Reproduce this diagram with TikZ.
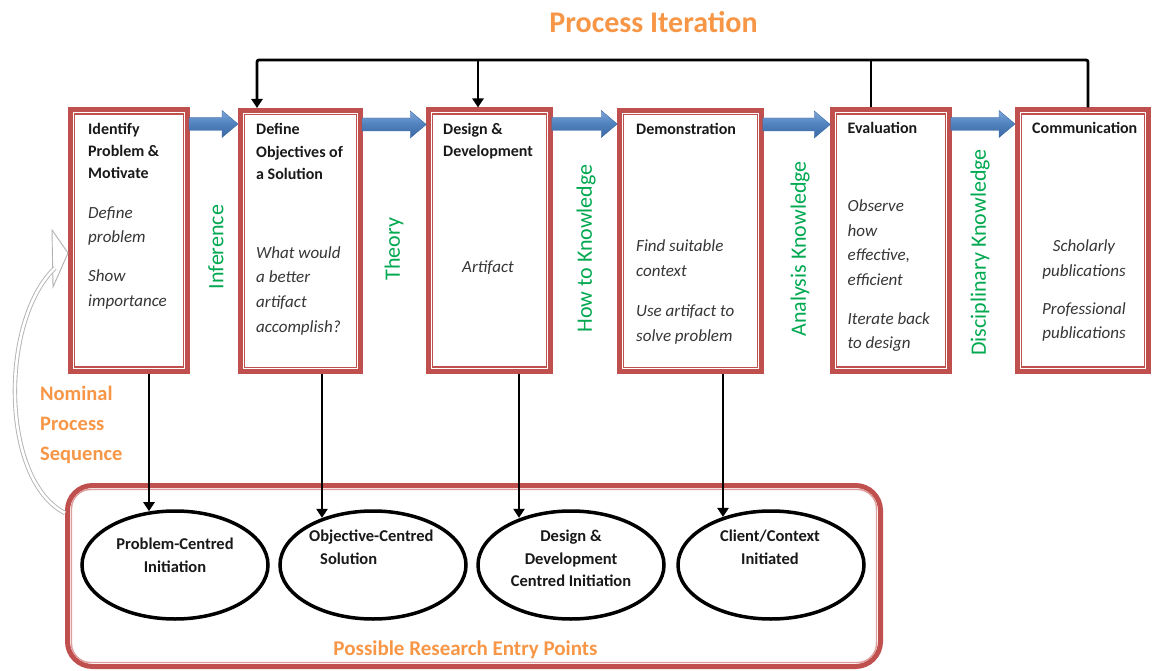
\documentclass[tikz,border=0pt]{standalone}
\usepackage{fontspec}
\setmainfont{Carlito}
\usetikzlibrary{arrows.meta,shapes.geometric,calc}

\definecolor{boxred}{HTML}{C0504D}
\definecolor{flowblue}{HTML}{4F81BD}
\definecolor{flowbluelt}{HTML}{7EA6DA}
\definecolor{flowbluedk}{HTML}{3A68A4}
\definecolor{knowgreen}{HTML}{00A850}
\definecolor{accent}{HTML}{F79646}
\definecolor{bodygray}{HTML}{363636}

% block arrow from the right side of one stage to the left side of the next
\newcommand\flowstep[2]{%
  \path[flowarrow]
    ($(#1.north east)+(-1,10)$) -- ($(#1.north east -| #2.west)+(-16,10)$)
    -- ($(#1.north east -| #2.west)+(-16,3)$) -- ($(#1.north east -| #2.west)+(0,16.5)$)
    -- ($(#1.north east -| #2.west)+(-16,30)$) -- ($(#1.north east -| #2.west)+(-16,23)$)
    -- ($(#1.north east)+(-1,23)$) -- cycle;}

% thin inner rule of a stage box
\newcommand\stageinner[1]{%
  \draw[boxred, line width=1.3pt]
    ([shift={(6.5pt,-6.5pt)}]#1.north west) rectangle ([shift={(-6.5pt,6.5pt)}]#1.south east);}

\begin{document}
\begin{tikzpicture}[x=1pt,y=-1pt,
  stage/.style={rectangle, draw=boxred, line width=5pt, fill=white,
    inner sep=0pt, outer sep=2.5pt, minimum height=261pt},
  title/.style={font=\fontsize{16}{22.4}\selectfont\bfseries, align=left,
    anchor=north west, inner sep=0pt, text=black!90},
  body/.style={font=\fontsize{17}{24.6}\selectfont\itshape, align=left,
    anchor=north west, inner sep=0pt, text=bodygray},
  know/.style={font=\fontsize{22}{26}\selectfont, text=knowgreen, rotate=90, inner sep=0pt},
  heading/.style={font=\fontsize{30}{34}\selectfont\bfseries, text=accent, inner sep=0pt},
  iter/.style={line width=2.8pt, black},
  iterarrow/.style={iter, -{Triangle[length=9pt,width=11pt]}},
  flowarrow/.style={top color=flowbluelt, bottom color=flowbluedk, middle color=flowblue,
    draw=flowbluedk, line width=0.4pt},
  entrypoint/.style={ellipse, draw=black, line width=3.5pt, fill=white,
    minimum width=186pt, minimum height=108pt, inner sep=0pt, outer sep=1.75pt},
  entrytext/.style={font=\fontsize{16.5}{22.3}\selectfont\bfseries, align=center,
    anchor=north, inner sep=0pt, text=black!90},
  nominal/.style={draw=gray!60, line width=0.9pt, double=white, double distance=2.6pt}
]
\useasboundingbox (0,0) rectangle (1153,671);

% ---- heading ----
\node[heading, anchor=base] (iterlabel) at (653.5,33) {Process Iteration};

% ---- the six stages ----
\node[stage, minimum width=117pt] (n1) at (129,240.5) {};
\node[stage, minimum width=120pt] (n2) at (300.5,241) {};
\node[stage, minimum width=121.5pt] (n3) at (489.5,240.5) {};
\node[stage, minimum width=141.5pt] (n4) at (690.5,241) {};
\node[stage, minimum width=116.5pt] (n5) at (891,240.5) {};
\node[stage, minimum width=131pt] (n6) at (1083,240.5) {};
\stageinner{n1}\stageinner{n2}\stageinner{n3}
\stageinner{n4}\stageinner{n5}\stageinner{n6}

% stage titles
\node[title] (t1) at (88,122.6) {Identify\\Problem \&\\Motivate};
\node[title] (t2) at (256,123.3) {Define\\Objectives of\\a Solution};
\node[title] (t3) at (443,122.6) {Design \&\\Development};
\node[title, anchor=base west] (t4) at (636,134.8) {Demonstration};
\node[title, anchor=base west] (t5) at (847.5,133.1) {Evaluation};
\node[title, anchor=base west] (t6) at (1032,133.1) {Communication};

% stage activities
\node[body] (b1a) at (88,206.2) {Define\\problem};
\node[body] (b1b) at (88,269.6) {Show\\importance};
\node[body] (b2) at (256,246.2) {What would\\a better\\artifact\\accomplish?};
\node[body, anchor=base] (b3) at (488,272.8) {Artifact};
\node[body] (b4a) at (636,239.6) {Find suitable\\context};
\node[body] (b4b) at (636,304.6) {Use artifact to\\solve problem};
\node[body] (b5a) at (847.5,199.6) {Observe\\how\\effective,\\efficient};
\node[body] (b5b) at (847.5,312.2) {Iterate back\\to design};
\node[body, align=center, anchor=north] (b6a) at (1084,239.6) {Scholarly\\publications};
\node[body, align=center, anchor=north] (b6b) at (1084,302.2) {Professional\\publications};

% ---- knowledge flows between stages ----
\flowstep{n1}{n2}
\flowstep{n2}{n3}
\flowstep{n3}{n4}
\flowstep{n4}{n5}
\flowstep{n5}{n6}
\node[know] (k1) at (216,247) {Inference};
\node[know] (k2) at (394,249) {Theory};
\node[know] (k3) at (586,248.5) {How to Knowledge};
\node[know] (k4) at (800,249) {Analysis Knowledge};
\node[know] (k5) at (980,252.5) {Disciplinary Knowledge};

% ---- process iteration ----
\coordinate (itL) at (257,60);
\coordinate (itB) at (478,60);
\coordinate (itE) at (871,60);
\coordinate (itC) at (1088,60);
\draw[iterarrow, rounded corners=2pt] (n6.north -| itC) -- (itC) -- (itL) -- (n2.north -| itL);
\draw[iter] (n5.north -| itE) -- (itE);
\draw[iterarrow] (itB) -- (n3.north -| itB);

% ---- research entry points ----
\node[rectangle, rounded corners=25pt, draw=boxred, line width=5pt, inner sep=0pt,
  outer sep=2.5pt, minimum width=813pt, minimum height=181pt] (area) at (474,576) {};
\draw[boxred!55, line width=1.4pt, rounded corners=19pt]
  ([shift={(6.5pt,-6.5pt)}]area.north west) rectangle ([shift={(-6.5pt,6.5pt)}]area.south east);
\node[font=\fontsize{21}{24}\selectfont\bfseries, text=accent, inner sep=0pt, anchor=base]
  (arealabel) at (465.5,655) {Possible Research Entry Points};

\node[entrypoint] (e1) at (175,565) {};
\node[entrypoint] (e2) at (373,565) {};
\node[entrypoint] (e3) at (571,565) {};
\node[entrypoint] (e4) at (771,565) {};
\node[entrytext] (e1t) at (175,538.1) {Problem-Centred\\Initiation};
\node[entrytext, align=left, anchor=north west] (e2t) at (309,530.1) {Objective-Centred\\\hspace*{11pt}Solution};
\node[entrytext] (e3t) at (571,530.1) {Design \&\\Development\\Centred Initiation};
\node[entrytext] (e4t) at (770,530.1) {Client/Context\\Initiated};

\coordinate (d1) at (149,0);
\coordinate (d2) at (322,0);
\coordinate (d3) at (519,0);
\coordinate (d4) at (723,0);
\draw[iterarrow] (n1.south -| d1) -- (e1.115 -| d1);
\draw[iterarrow] (n2.south -| d2) -- (e2.137 -| d2);
\draw[iterarrow] (n3.south -| d3) -- (e3.137 -| d3);
\draw[iterarrow] (n4.south -| d4) -- (e4.135 -| d4);

% ---- nominal process sequence ----
\node[font=\fontsize{20.5}{30}\selectfont\bfseries, text=accent, align=left,
  anchor=north west, inner sep=0pt] (seq) at (40,386.4) {Nominal\\Process\\Sequence};
\coordinate (seqstart) at (area.west |- 0,513);
\coordinate (seqend) at (55,268);
\draw[gray!60, line width=0.9pt, fill=white, line join=miter]
  (52,230) -- (68,253) -- (53,287) -- cycle;
\draw[nominal] (seqstart) .. controls (0,480) and (0,320) .. (seqend);
\end{tikzpicture}
\end{document}
